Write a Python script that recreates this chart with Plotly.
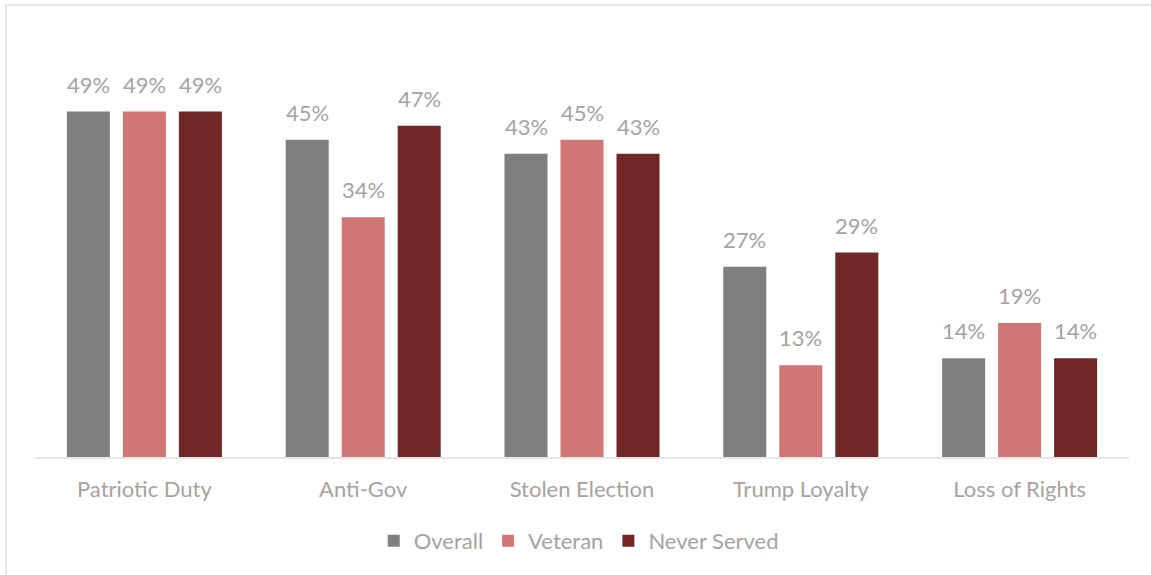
import plotly.graph_objects as go

categories = ["Patriotic Duty", "Anti-Gov", "Stolen Election", "Trump Loyalty", "Loss of Rights"]
overall = [0.49, 0.45, 0.43, 0.27, 0.14]
veteran = [0.49, 0.34, 0.45, 0.13, 0.19]
never_served = [0.49, 0.47, 0.43, 0.29, 0.14]

series = [
    ("Overall", overall, "#7F7F7F"),
    ("Veteran", veteran, "#D07674"),
    ("Never Served", never_served, "#722727"),
]

TEXT = "#A8A29E"
FONT = "Lato, Calibri, sans-serif"
FS = 22

fig = go.Figure()
for name, vals, col in series:
    fig.add_trace(go.Bar(
        x=categories, y=vals, name=name, marker_color=col,
        marker_line_width=0,
    ))

W, H = 1151, 575
ml, mr, mt, mb = 35, 22, 34, 118
pw, ph = W - ml - mr, H - mt - mb

def px_x(p):
    return (p - ml) / pw

def px_y(p):
    return (H - mb - p) / ph

annotations = []
slot = 56
for i, (name, vals, col) in enumerate(series):
    for c, v in zip(categories, vals):
        annotations.append(dict(
            x=c, y=v, xref="x", yref="y", text=f"{v:.0%}", showarrow=False,
            xanchor="center", yanchor="bottom", xshift=(i - 1) * slot, yshift=12,
            font=dict(color=TEXT, size=FS, family=FONT),
        ))

fig.update_layout(
    width=W, height=H,
    margin=dict(l=ml, r=mr, t=mt, b=mb),
    barmode="group", bargap=0.232, bargroupgap=0.232,
    plot_bgcolor="white", paper_bgcolor="white",
    font=dict(family=FONT, color=TEXT, size=FS),
    showlegend=True,
    legend=dict(orientation="h", x=0.497, xanchor="center", y=px_y(541), yanchor="middle",
                font=dict(size=FS, color=TEXT, family=FONT), itemwidth=30, traceorder="normal"),
    xaxis=dict(showline=True, linecolor="#E6E6E6", linewidth=2, ticks="outside", ticklen=12,
               tickcolor="rgba(0,0,0,0)", tickfont=dict(size=FS, color=TEXT, family=FONT),
               showgrid=False, zeroline=False),
    yaxis=dict(range=[0, 0.6], visible=False, showgrid=False, zeroline=False),
    annotations=annotations,
    shapes=[dict(type="rect", xref="paper", yref="paper",
                 x0=px_x(6), x1=px_x(1165), y0=px_y(590), y1=px_y(5),
                 line=dict(color="#E8E8E8", width=2), layer="below")],
)

fig.write_html("out.html", post_script="document.body.style.margin='0';",
               config={"displayModeBar": False})
